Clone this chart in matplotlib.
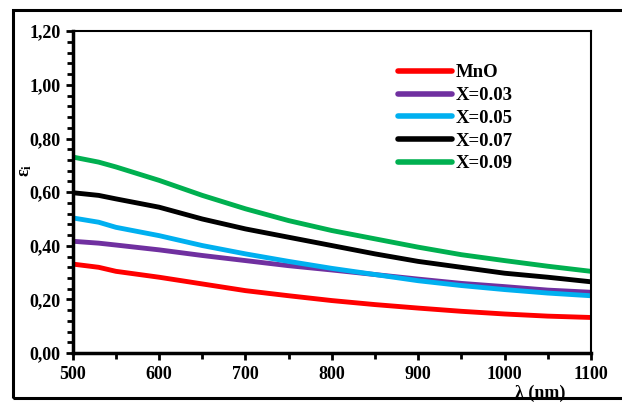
import numpy as np
import matplotlib
matplotlib.use('Agg')
from matplotlib import pyplot as plt
from matplotlib.patches import Rectangle
from matplotlib.ticker import MultipleLocator, FuncFormatter

plt.rcParams['font.family'] = ['Liberation Serif', 'DejaVu Serif']
plt.rcParams['font.weight'] = 'bold'
plt.rcParams['mathtext.fontset'] = 'custom'
plt.rcParams['mathtext.rm'] = 'Liberation Serif:bold'
plt.rcParams['mathtext.it'] = 'Liberation Serif:bold'

# wavelength (nm)
lam = [500, 530, 550, 600, 650, 700, 750, 800, 850, 900, 950, 1000, 1050, 1100]

# imaginary part of the dielectric constant
eps_mno = [0.332, 0.320, 0.305, 0.283, 0.258, 0.233, 0.214, 0.196, 0.181, 0.168, 0.156, 0.146, 0.138, 0.133]
eps_003 = [0.417, 0.410, 0.403, 0.385, 0.364, 0.345, 0.326, 0.310, 0.293, 0.276, 0.260, 0.248, 0.235, 0.227]
eps_005 = [0.504, 0.488, 0.469, 0.438, 0.401, 0.370, 0.342, 0.316, 0.293, 0.270, 0.252, 0.237, 0.224, 0.214]
eps_007 = [0.598, 0.588, 0.575, 0.544, 0.500, 0.463, 0.432, 0.401, 0.370, 0.342, 0.320, 0.298, 0.283, 0.266]
eps_009 = [0.731, 0.712, 0.694, 0.644, 0.588, 0.538, 0.494, 0.457, 0.426, 0.395, 0.367, 0.345, 0.324, 0.305]

labels = ['MnO', 'X=0.03', 'X=0.05', 'X=0.07', 'X=0.09']
colors = ['#FF0000', '#7030A0', '#00B0F0', '#000000', '#00B050']
series = [eps_mno, eps_003, eps_005, eps_007, eps_009]

fig = plt.figure(figsize=(6.22, 4.05), dpi=100)
ax = fig.add_axes([0.117, 0.128, 0.833, 0.795])

for y, c, lb in zip(series, colors, labels):
    ax.plot(lam, y, color=c, lw=3.5, label=lb, solid_capstyle='round')

ax.set_xlim(500, 1100)
ax.set_ylim(0, 1.2)
ax.xaxis.set_major_locator(MultipleLocator(100))
ax.xaxis.set_minor_locator(MultipleLocator(50))
ax.yaxis.set_major_locator(MultipleLocator(0.2))
ax.yaxis.set_minor_locator(MultipleLocator(0.04))
ax.yaxis.set_major_formatter(FuncFormatter(lambda v, p: ('%.2f' % v).replace('.', ',')))
ax.tick_params(which='major', direction='out', length=5, width=2, labelsize=13, pad=4)
ax.tick_params(which='minor', direction='out', length=4, width=2)

for s in ['left', 'bottom']:
    ax.spines[s].set_linewidth(2.5)
for s in ['top', 'right']:
    ax.spines[s].set_linewidth(1.5)

for t in ax.get_xticklabels() + ax.get_yticklabels():
    t.set_fontweight('bold')

leg = ax.legend(loc='upper left', bbox_to_anchor=(0.627, 0.897), frameon=False,
                fontsize=13.5, handlelength=2.9, handletextpad=0.2,
                labelspacing=0.3, borderpad=0, borderaxespad=0)
for h in leg.get_lines():
    h.set_linewidth(4)

fig.text(25/622, 1-170/405, r'$\mathrm{ε_i}$', rotation=90, fontsize=13,
         ha='center', va='center')
fig.text(540/622, 1-393/405, 'λ (nm)', fontsize=13, fontweight='bold',
         ha='center', va='center')

# outer frame around the figure
fig.patches.append(Rectangle((13/622, 1-398/405), 1.0, 388/405, transform=fig.transFigure,
                             fill=False, edgecolor='black', lw=2.2))

fig.savefig('out.png', dpi=100)
